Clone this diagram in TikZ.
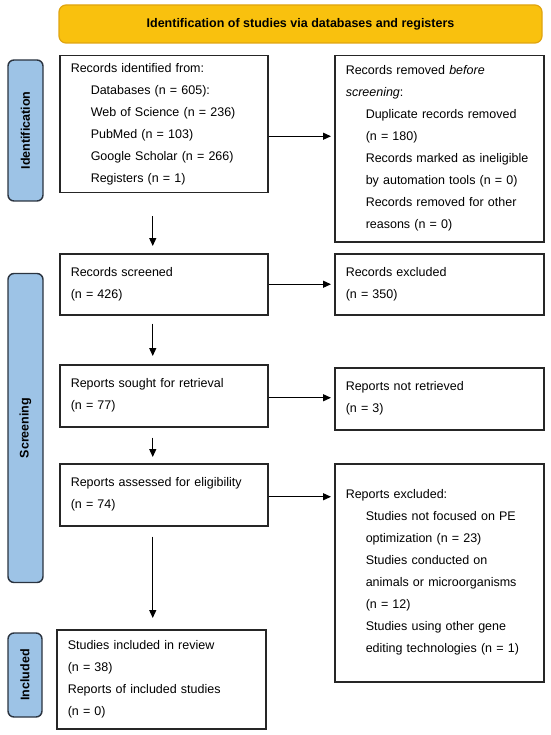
\documentclass[tikz,border=0pt]{standalone}
\usepackage{fontspec}
\setmainfont{Liberation Sans}
\usetikzlibrary{arrows.meta,calc}
\definecolor{boxline}{HTML}{262626}
\definecolor{bannerfill}{HTML}{F9C10E}
\definecolor{bannerline}{HTML}{E0A410}
\definecolor{sideblue}{HTML}{9DC3E6}
\definecolor{sideline}{HTML}{2B3440}
\begin{document}
\begin{tikzpicture}[x=1pt,y=1pt,
  box/.style={draw=boxline, line width=1.5pt, anchor=north west, inner xsep=11pt, inner ysep=0pt, align=left, font=\fontsize{12.5}{22}\selectfont},
  sidelabel/.style={draw=sideline, fill=sideblue, line width=1.4pt, rounded corners=6pt, rotate=90, font=\bfseries\fontsize{12.5}{15}\selectfont},
  banner/.style={draw=bannerline, fill=bannerfill, line width=1.2pt, rounded corners=7pt, font=\bfseries\fontsize{12.5}{15}\selectfont},
  arr/.style={-{Triangle[length=8pt,width=7pt]}, line width=1.3pt, draw=black}]
\useasboundingbox (0,0) rectangle (550,-735);

\node[banner, minimum width=483pt, minimum height=38pt] (ban) at (300.5,-24) {Identification of studies via databases and registers};

\node[sidelabel, minimum width=141pt, minimum height=35pt] (sid) at (25.5,-130.5) {Identification};
\node[sidelabel, minimum width=309pt, minimum height=35pt] (sscr) at (25.5,-428) {Screening};
\node[sidelabel, minimum width=84pt, minimum height=34pt] (sinc) at (25,-675) {Included};

\node[box, minimum width=208pt, minimum height=137pt, text width=186pt] (b1) at (59,-55) {Records identified from:\\
\hspace*{20pt}Databases (n = 605):\\
\hspace*{20pt}Web of Science (n = 236)\\
\hspace*{20pt}PubMed (n = 103)\\
\hspace*{20pt}Google Scholar (n = 266)\\
\hspace*{20pt}Registers (n = 1)};

\node[box, minimum width=209pt, minimum height=186pt, text width=187pt] (b2) at (334,-55) {Records removed \textit{before}\\
\textit{screening}:\\
\hspace*{20pt}Duplicate records removed\\
\hspace*{20pt}(n = 180)\\
\hspace*{20pt}Records marked as ineligible\\
\hspace*{20pt}by automation tools (n = 0)\\
\hspace*{20pt}Records removed for other\\
\hspace*{20pt}reasons (n = 0)};

\node[box, minimum width=208pt, minimum height=61pt, text width=186pt] (b3) at (59,-253) {Records screened\\(n = 426)};
\node[box, minimum width=209pt, minimum height=61pt, text width=187pt] (b4) at (334,-253) {Records excluded\\(n = 350)};

\node[box, minimum width=208pt, minimum height=62pt, text width=186pt] (b5) at (59,-364) {Reports sought for retrieval\\(n = 77)};
\node[box, minimum width=209pt, minimum height=62pt, text width=187pt] (b6) at (334,-367) {Reports not retrieved\\(n = 3)};

\node[box, minimum width=208pt, minimum height=62pt, text width=186pt] (b7) at (59,-463) {Reports assessed for eligibility\\(n = 74)};
\node[box, minimum width=209pt, minimum height=218pt, text width=187pt] (b8) at (334,-463) {Reports excluded:\\
\hspace*{20pt}Studies not focused on PE\\
\hspace*{20pt}optimization (n = 23)\\
\hspace*{20pt}Studies conducted on\\
\hspace*{20pt}animals or microorganisms\\
\hspace*{20pt}(n = 12)\\
\hspace*{20pt}Studies using other gene\\
\hspace*{20pt}editing technologies (n = 1)};

\node[box, minimum width=209pt, minimum height=99pt, text width=187pt] (b9) at (56,-629) {Studies included in review\\(n = 38)\\Reports of included studies\\(n = 0)};

% horizontal arrows
\draw[arr, shorten >=3pt] ([yshift=-12pt]b1.east) -- ([yshift=-12pt]b1.east -| b2.west);
\draw[arr, shorten >=3pt] (b3.east) -- (b3.east -| b4.west);
\draw[arr, shorten >=3pt] ([yshift=-2pt]b5.east) -- ([yshift=-2pt]b5.east -| b6.west);
\draw[arr, shorten >=3pt] ([yshift=-2pt]b7.east) -- ([yshift=-2pt]b7.east -| b8.west);

% vertical arrows
\draw[arr, shorten <=23pt, shorten >=7pt] ([xshift=-11pt]b1.south) -- ([xshift=-11pt]b1.south |- b3.north);
\draw[arr, shorten <=8pt, shorten >=8pt] ([xshift=-11pt]b3.south) -- ([xshift=-11pt]b3.south |- b5.north);
\draw[arr, shorten <=10pt, shorten >=6pt] ([xshift=-11pt]b5.south) -- ([xshift=-11pt]b5.south |- b7.north);
\draw[arr, shorten <=10pt, shorten >=11pt] ([xshift=-11pt]b7.south) -- ([xshift=-11pt]b7.south |- b9.north);
\end{tikzpicture}
\end{document}
